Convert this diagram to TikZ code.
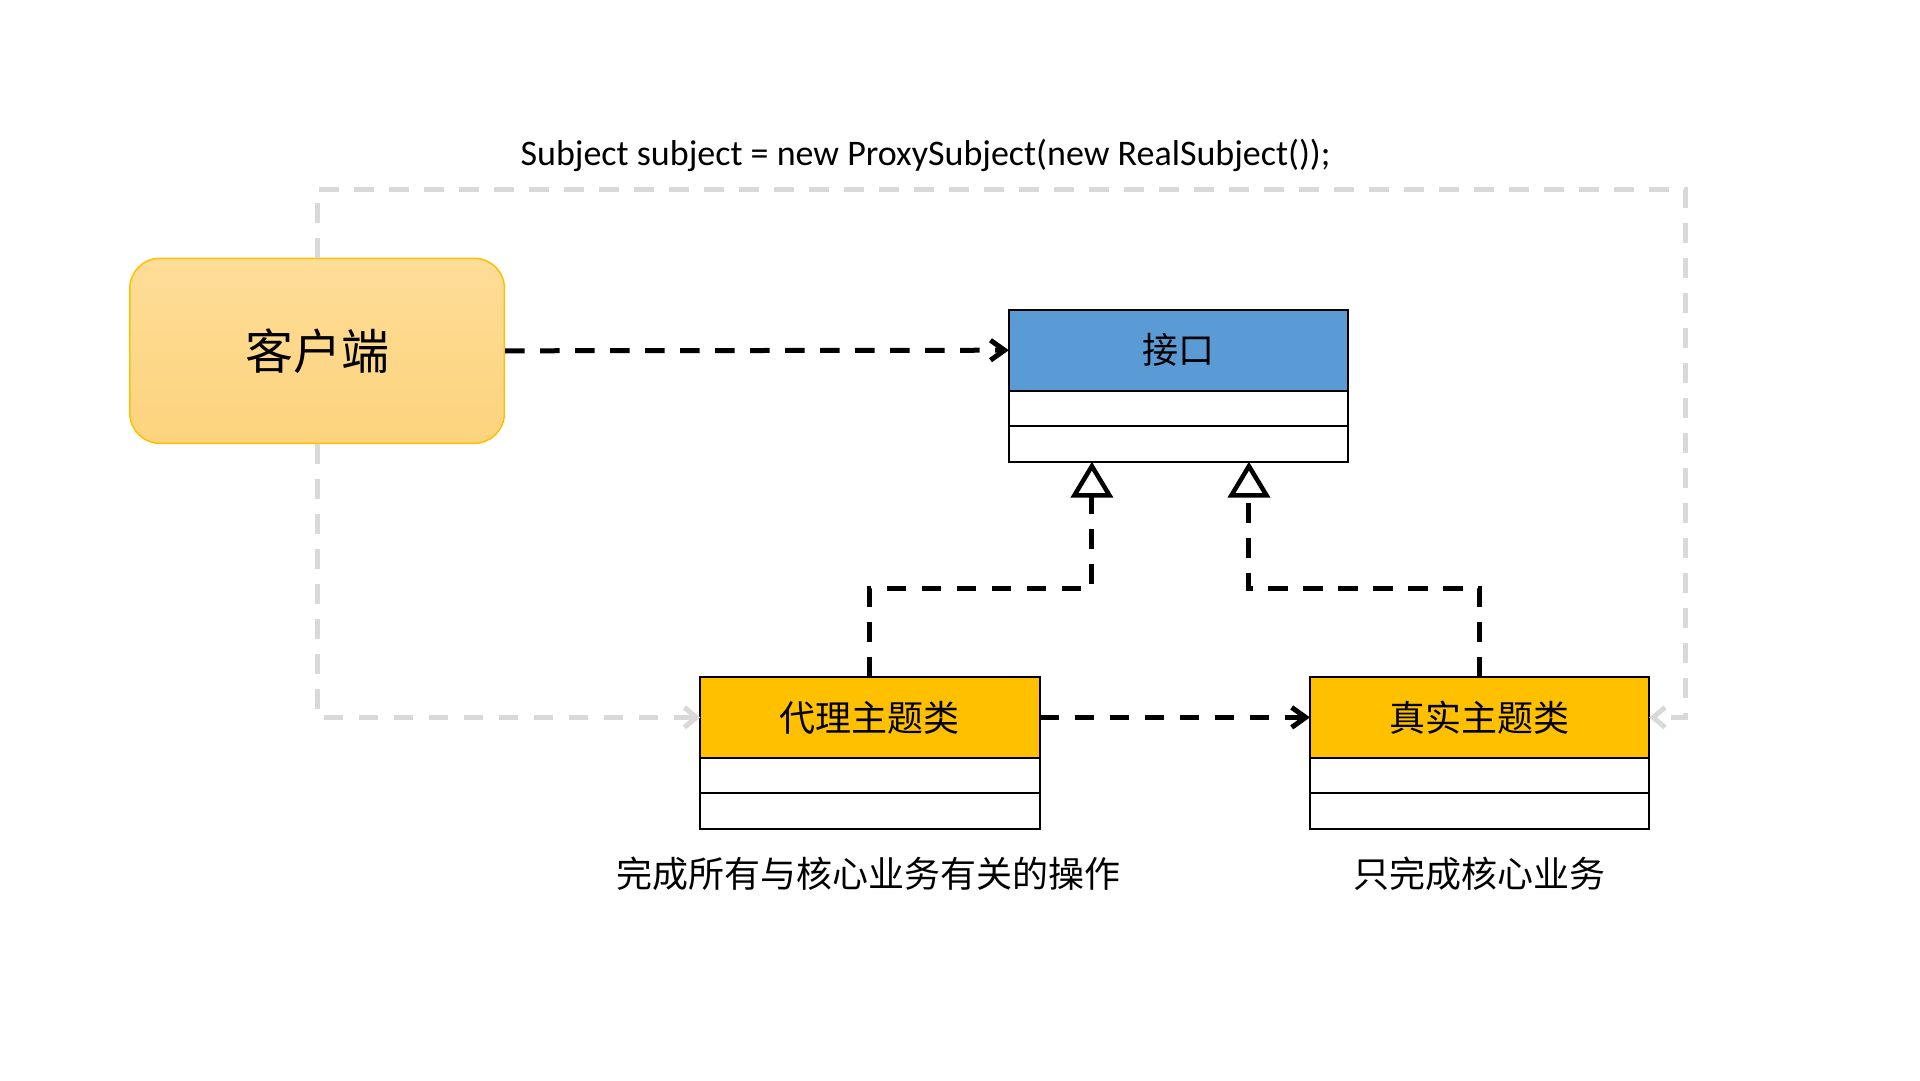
\documentclass[tikz,border=0pt]{standalone}
\usepackage{fontspec}
\setmainfont{Carlito}
\newfontfamily\cjk{Noto Sans CJK SC}
\usetikzlibrary{positioning}
\usetikzlibrary{calc}
\usetikzlibrary{arrows.meta}

\definecolor{ifaceblue}{HTML}{5B9BD5}
\definecolor{classgold}{HTML}{FFC000}
\definecolor{clienttop}{HTML}{FEDD98}
\definecolor{clientbot}{HTML}{FDD37D}
\definecolor{loopgray}{HTML}{D9D9D9}

\begin{document}
\begin{tikzpicture}[
x=1pt, y=-1pt,
client/.style={draw=classgold, line width=1.5pt, top color=clienttop, bottom color=clientbot,
  rounded corners=30pt, minimum width=374.6pt, minimum height=185pt, font=\cjk\fontsize{48}{54}\selectfont},
head/.style={draw, line width=2pt, minimum width=339.2pt, minimum height=81pt, inner sep=0pt, outer sep=0pt,
  font=\cjk\fontsize{36}{42}\selectfont},
row/.style={draw, line width=2pt, fill=white, minimum width=339.2pt, minimum height=35.5pt, inner sep=0pt, outer sep=0pt},
note/.style={font=\cjk\fontsize{36}{42}\selectfont},
dep/.style={line width=5pt, dash pattern=on 19.5pt off 15.5pt, -{Straight Barb[length=14pt, width=20pt]}},
impl/.style={line width=5pt, dash pattern=on 19.5pt off 15.5pt, -{Triangle[open, length=36pt, width=42pt, line width=4.5pt]}},
loop/.style={draw=loopgray, line width=5pt, dash pattern=on 19.5pt off 15.5pt, -{Straight Barb[length=12pt, width=20pt]}}
]
\useasboundingbox (0,0) rectangle (1920,1080);

\node[font=\fontsize{36}{42}\selectfont] (code) at (925.6,155) {Subject subject = new ProxySubject(new RealSubject());};

\node[client] (client) at (317.1,350.8) {客户端};

% interface
\node[head, fill=ifaceblue] (iface) at (1178.4,350.2) {接口};
\node[row, below=0pt of iface] (iface-a) {};
\node[row, below=0pt of iface-a] (iface-b) {};

% proxy and real subject
\node[head, fill=classgold] (proxy) at (869.9,717.4) {代理主题类};
\node[row, below=0pt of proxy] (proxy-a) {};
\node[row, below=0pt of proxy-a] (proxy-b) {};

\node[head, fill=classgold] (real) at (1479.6,717.4) {真实主题类};
\node[row, below=0pt of real] (real-a) {};
\node[row, below=0pt of real-a] (real-b) {};

\node[note] (proxy-note) at (868,874) {完成所有与核心业务有关的操作};
\node[note] (real-note) at (1479,874) {只完成核心业务};

\coordinate (proxy-in) at ($(iface-b.south west)!0.245!(iface-b.south east)$);
\coordinate (real-in) at ($(iface-b.south west)!0.708!(iface-b.south east)$);

\draw[loop] (client.north) |- (1685.9,189.8) |- (real.east);
\draw[loop] (client.south) |- (proxy.west);

\draw[dep] (client.east) -- (iface.west);
\draw[dep] (proxy.east) -- (real.west);

\draw[impl] (proxy.north) -- ++(0,-88) -| (proxy-in);
\draw[impl] (real.north) -- ++(0,-88) -| (real-in);
\end{tikzpicture}
\end{document}
